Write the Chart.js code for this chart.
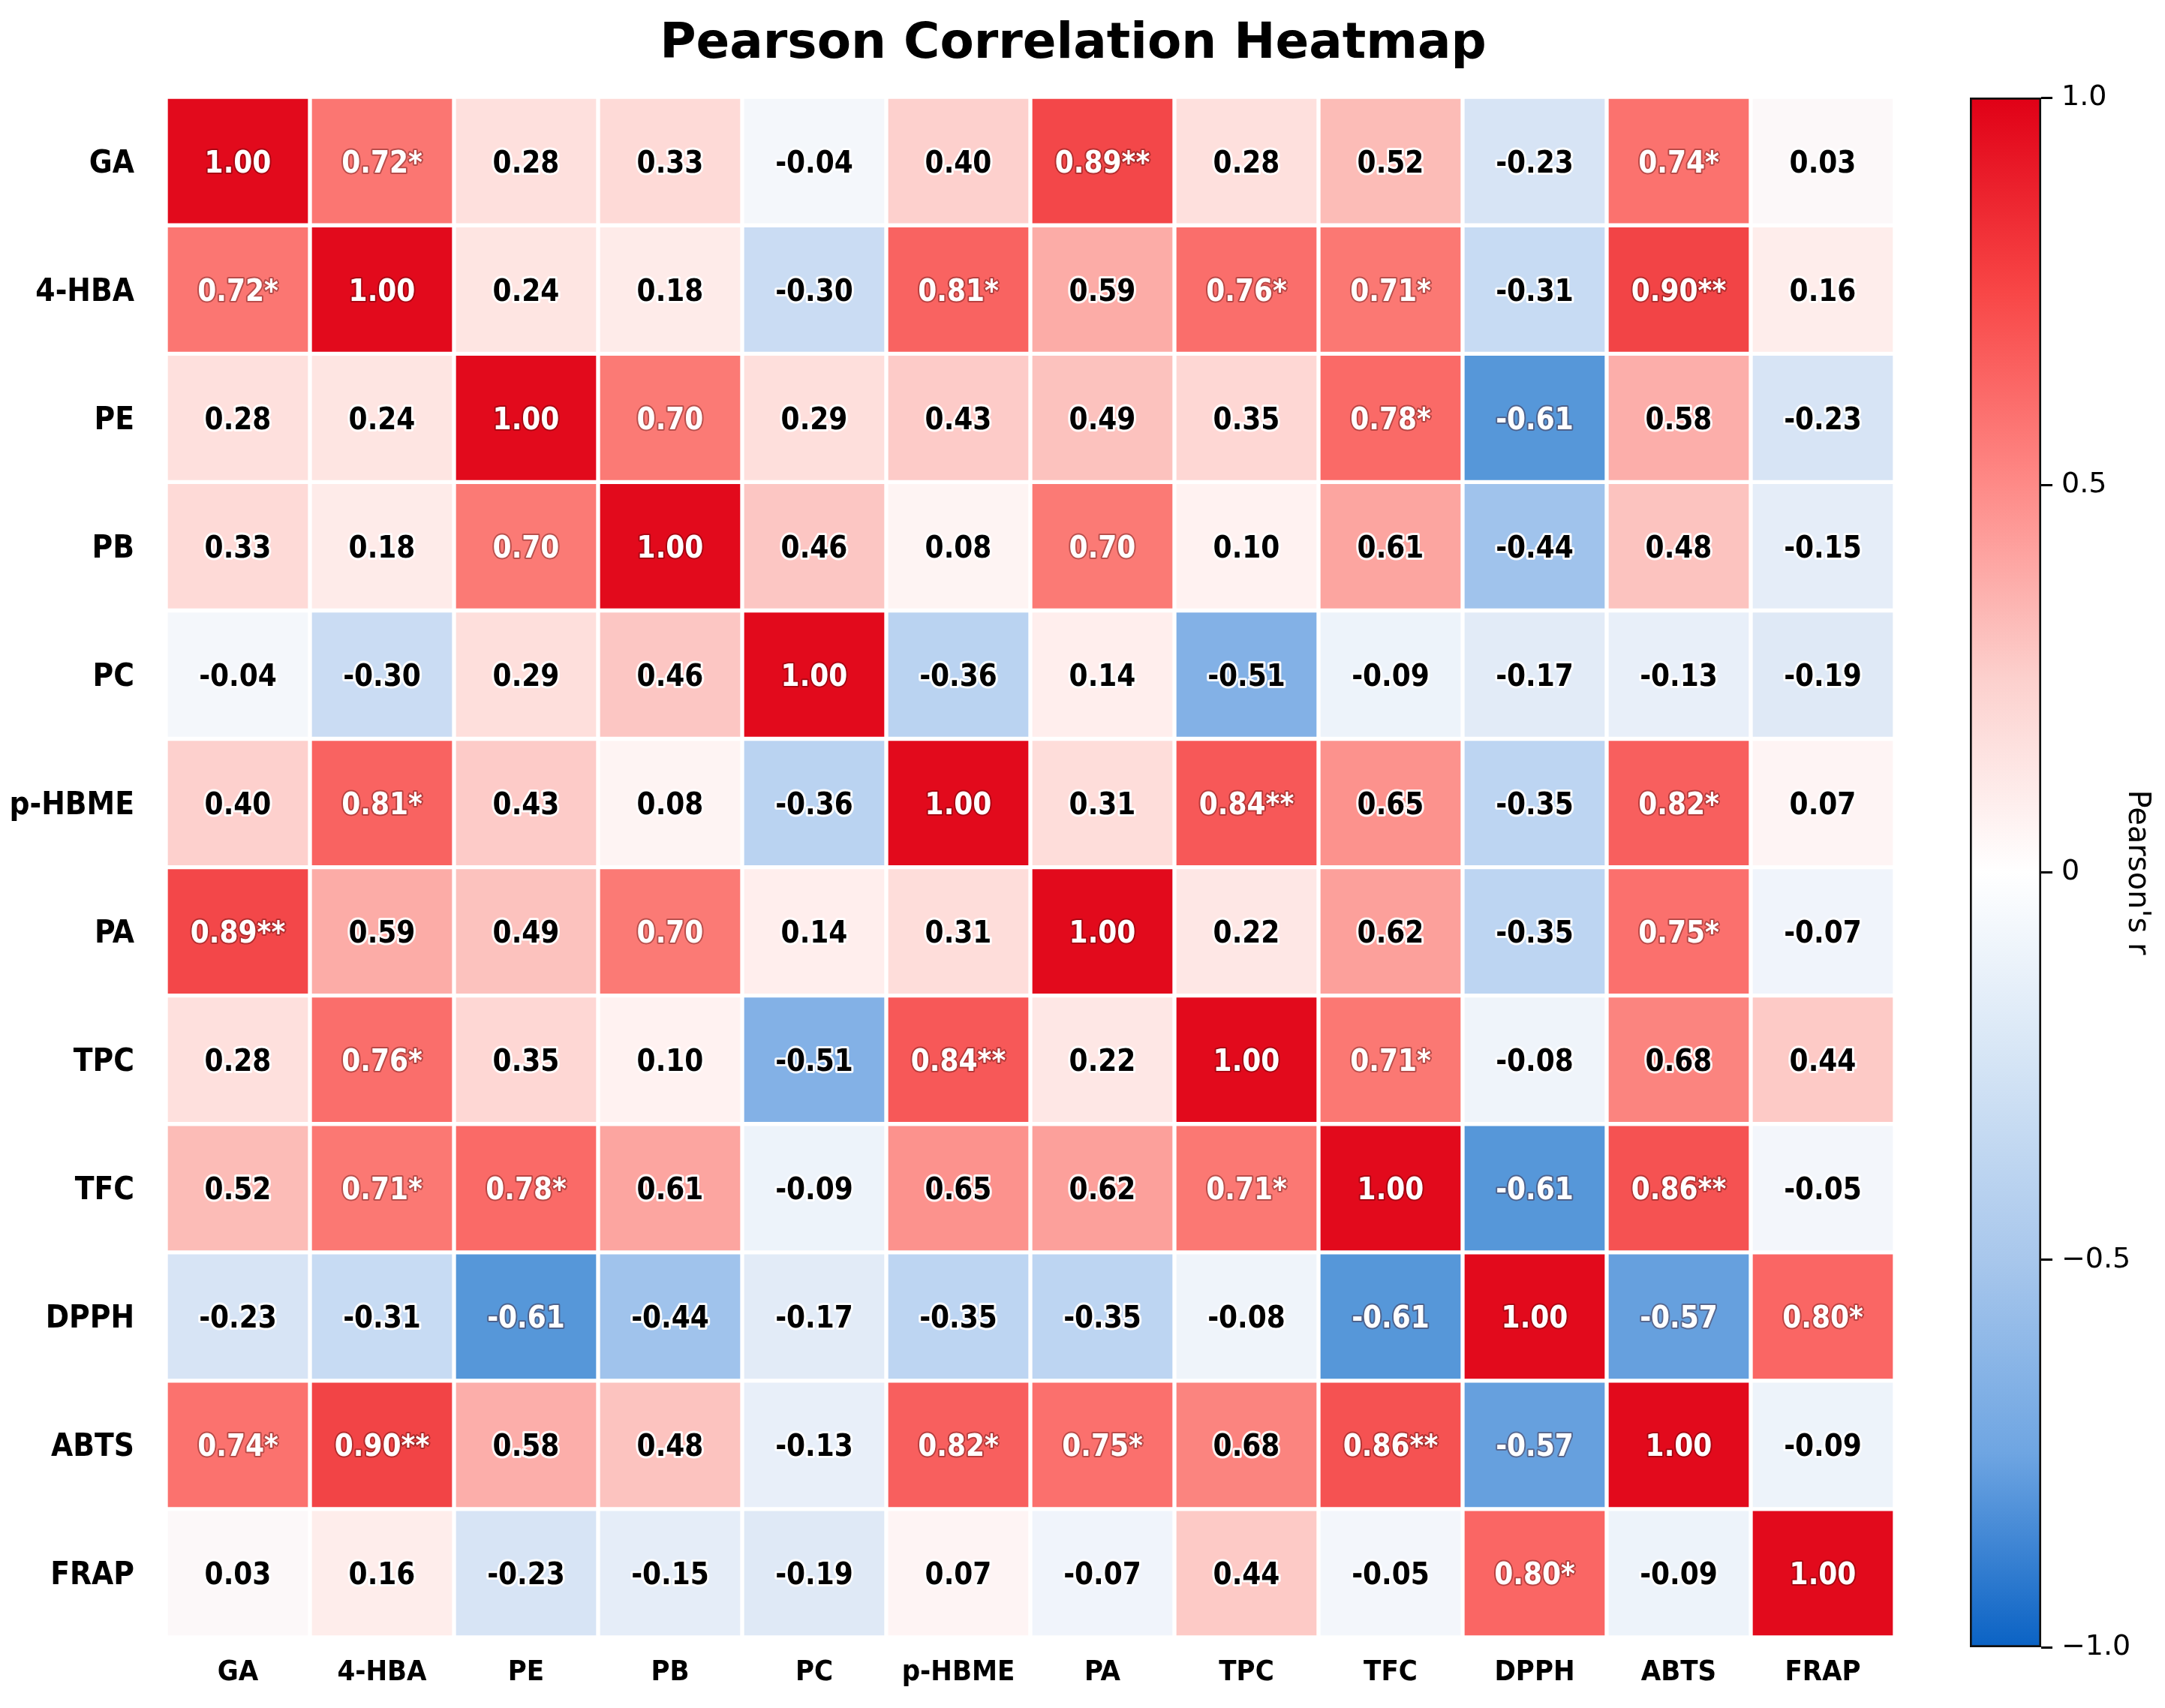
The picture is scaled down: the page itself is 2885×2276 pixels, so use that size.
<!DOCTYPE html>
<html>
<head>
<meta charset="utf-8">
<script src="https://cdn.jsdelivr.net/npm/chart.js@4.4.1/dist/chart.umd.min.js"></script>
<style>
  body { margin: 0; background: #ffffff; }
  #wrap { position: relative; width: 2885px; height: 2276px; }
  #heat { position: absolute; left: 0; top: 0; }
  #cbar { position: absolute; left: 2600px; top: 0; }
</style>
</head>
<body>
<div id="wrap">
  <canvas id="heat" width="2885" height="2276"></canvas>
  <canvas id="cbar" width="285" height="2276"></canvas>
</div>
<script>
// variables, same order on both axes
const etiquetas = ["GA", "4-HBA", "PE", "PB", "PC", "p-HBME", "PA", "TPC", "TFC", "DPPH", "ABTS", "FRAP"]

// correlation rows (Pearson r)
const filaGA    = [1.00, 0.72, 0.28, 0.33, -0.04, 0.40, 0.89, 0.28, 0.52, -0.23, 0.74, 0.03]
const filaHBA   = [0.72, 1.00, 0.24, 0.18, -0.30, 0.81, 0.59, 0.76, 0.71, -0.31, 0.90, 0.16]
const filaPE    = [0.28, 0.24, 1.00, 0.70, 0.29, 0.43, 0.49, 0.35, 0.78, -0.61, 0.58, -0.23]
const filaPB    = [0.33, 0.18, 0.70, 1.00, 0.46, 0.08, 0.70, 0.10, 0.61, -0.44, 0.48, -0.15]
const filaPC    = [-0.04, -0.30, 0.29, 0.46, 1.00, -0.36, 0.14, -0.51, -0.09, -0.17, -0.13, -0.19]
const filaHBME  = [0.40, 0.81, 0.43, 0.08, -0.36, 1.00, 0.31, 0.84, 0.65, -0.35, 0.82, 0.07]
const filaPA    = [0.89, 0.59, 0.49, 0.70, 0.14, 0.31, 1.00, 0.22, 0.62, -0.35, 0.75, -0.07]
const filaTPC   = [0.28, 0.76, 0.35, 0.10, -0.51, 0.84, 0.22, 1.00, 0.71, -0.08, 0.68, 0.44]
const filaTFC   = [0.52, 0.71, 0.78, 0.61, -0.09, 0.65, 0.62, 0.71, 1.00, -0.61, 0.86, -0.05]
const filaDPPH  = [-0.23, -0.31, -0.61, -0.44, -0.17, -0.35, -0.35, -0.08, -0.61, 1.00, -0.57, 0.80]
const filaABTS  = [0.74, 0.90, 0.58, 0.48, -0.13, 0.82, 0.75, 0.68, 0.86, -0.57, 1.00, -0.09]
const filaFRAP  = [0.03, 0.16, -0.23, -0.15, -0.19, 0.07, -0.07, 0.44, -0.05, 0.80, -0.09, 1.00]

// significance marks per row
const sigGA    = ["", "*", "", "", "", "", "**", "", "", "", "*", ""]
const sigHBA   = ["*", "", "", "", "", "*", "", "*", "*", "", "**", ""]
const sigPE    = ["", "", "", "", "", "", "", "", "*", "", "", ""]
const sigPB    = ["", "", "", "", "", "", "", "", "", "", "", ""]
const sigPC    = ["", "", "", "", "", "", "", "", "", "", "", ""]
const sigHBME  = ["", "*", "", "", "", "", "", "**", "", "", "*", ""]
const sigPA    = ["**", "", "", "", "", "", "", "", "", "", "*", ""]
const sigTPC   = ["", "*", "", "", "", "**", "", "", "*", "", "", ""]
const sigTFC   = ["", "*", "*", "", "", "", "", "*", "", "", "**", ""]
const sigDPPH  = ["", "", "", "", "", "", "", "", "", "", "", "*"]
const sigABTS  = ["*", "**", "", "", "", "*", "*", "", "**", "", "", ""]
const sigFRAP  = ["", "", "", "", "", "", "", "", "", "*", "", ""]

// colour bar ticks
const ticksBarra = [-1, -0.5, 0, 0.5, 1]

const filas = [filaGA, filaHBA, filaPE, filaPB, filaPC, filaHBME, filaPA, filaTPC, filaTFC, filaDPPH, filaABTS, filaFRAP]
const marcas = [sigGA, sigHBA, sigPE, sigPB, sigPC, sigHBME, sigPA, sigTPC, sigTFC, sigDPPH, sigABTS, sigFRAP]

// blue - white - red colour map for the cells
const paradas = [
    [-1.0, [14, 96, 196]],
    [-0.6, [88, 152, 218]],
    [-0.5, [136, 180, 231]],
    [-0.4, [176, 205, 240]],
    [-0.3, [202, 220, 243]],
    [-0.2, [221, 232, 246]],
    [-0.1, [236, 242, 250]],
    [0.0, [250, 250, 252]],
    [0.1, [255, 242, 241]],
    [0.2, [254, 233, 231]],
    [0.3, [254, 222, 219]],
    [0.4, [253, 208, 205]],
    [0.5, [252, 192, 188]],
    [0.6, [252, 170, 165]],
    [0.7, [251, 122, 117]],
    [0.8, [250, 102, 100]],
    [0.9, [242, 68, 70]],
    [1.0, [226, 10, 28]]
]

// colour bar gradient
const paradasBarra = [
    [-1.0, [10, 98, 196]],
    [-0.75, [110, 165, 226]],
    [-0.5, [168, 199, 236]],
    [-0.25, [212, 228, 245]],
    [0.0, [255, 255, 255]],
    [0.25, [252, 208, 205]],
    [0.5, [254, 138, 135]],
    [0.75, [248, 70, 70]],
    [1.0, [224, 0, 22]]
]

function colorDe(v) {
    for (let k = 1; k < paradas.length; k++) {
        if (v <= paradas[k][0]) {
            const a = paradas[k - 1], b = paradas[k]
            const t = (v - a[0]) / (b[0] - a[0])
            const c = a[1].map((x, i) => Math.round(x + (b[1][i] - x) * t))
            return `rgb(${c[0]},${c[1]},${c[2]})`
        }
    }
    return "rgb(226,10,28)"
}

const fuenteNum = "'DejaVu Sans Condensed', 'DejaVu Sans', sans-serif"

const anotaciones = {
    id: "anotaciones",
    afterDatasetsDraw(chart) {
        const ctx = chart.ctx
        ctx.save()
        ctx.font = `bold 40px ${fuenteNum}`
        ctx.textAlign = "center"
        ctx.textBaseline = "alphabetic"
        ctx.lineJoin = "round"
        chart.data.datasets.forEach((ds, i) => {
            const meta = chart.getDatasetMeta(i)
            meta.data.forEach((bar, j) => {
                const v = filas[i][j]
                const txt = v.toFixed(2) + marcas[i][j]
                const cx = bar.x
                // digits centred on the cell
                const cy = (bar.y + bar.base) / 2 + 15
                const blanco = v >= 0.70 || v <= -0.55
                ctx.lineWidth = blanco ? 4 : 6
                ctx.strokeStyle = blanco ? "rgba(60,0,0,0.35)" : "rgba(255,255,255,0.9)"
                ctx.strokeText(txt, cx, cy)
                ctx.fillStyle = blanco ? "#ffffff" : "#000000"
                ctx.fillText(txt, cx, cy)
            })
        })
        ctx.restore()
    }
}

const conjuntos = filas.map((fila, i) => ({
    label: etiquetas[i],
    data: fila.map(() => [i, i + 1]),
    backgroundColor: c => colorDe(filas[c.datasetIndex][c.dataIndex]),
    borderColor: "#ffffff",
    borderWidth: 3,
    borderSkipped: false,
    grouped: false,
    barPercentage: 1,
    categoryPercentage: 1
}))

new Chart(document.getElementById("heat"), {
    type: "bar",
    data: { labels: etiquetas, datasets: conjuntos },
    options: {
        responsive: false,
        animation: false,
        devicePixelRatio: 1,
        layout: { padding: { left: 0, right: 25, top: 0, bottom: 0 } },
        plugins: {
            legend: { display: false },
            tooltip: { enabled: false },
            title: {
                display: true,
                text: "Pearson Correlation Heatmap",
                color: "#000000",
                font: { family: "'DejaVu Sans', sans-serif", size: 66, weight: "bold" },
                padding: { top: 20, bottom: 30 }
            }
        },
        scales: {
            x: {
                grid: { display: false, drawTicks: false },
                border: { display: false },
                ticks: {
                    color: "#000000",
                    padding: 24,
                    font: { family: fuenteNum, size: 38, weight: "bold" }
                },
                afterFit: ax => { ax.height = 94 }
            },
            y: {
                type: "linear",
                min: 0,
                max: 12,
                reverse: true,
                grid: { display: false, drawTicks: false },
                border: { display: false },
                afterBuildTicks: ax => { ax.ticks = etiquetas.map((_, i) => ({ value: i + 0.5 })) },
                ticks: {
                    color: "#000000",
                    padding: 42,
                    labelOffset: 4,
                    font: { family: fuenteNum, size: 42, weight: "bold" },
                    callback: (v, idx) => etiquetas[idx]
                },
                afterFit: ax => { ax.width = 221 }
            },
            // empty axis that keeps room for the colour bar
            y2: {
                type: "linear",
                position: "right",
                min: 0,
                max: 12,
                grid: { display: false, drawTicks: false },
                border: { display: false },
                ticks: { display: false },
                afterFit: ax => { ax.width = 335 }
            }
        }
    },
    plugins: [anotaciones]
})

// colour bar
new Chart(document.getElementById("cbar"), {
    type: "bar",
    data: {
        labels: ["r"],
        datasets: [{
            data: [[-1, 1]],
            backgroundColor: c => {
                const area = c.chart.chartArea
                if (!area) return "#ffffff"
                const g = c.chart.ctx.createLinearGradient(0, area.bottom, 0, area.top)
                paradasBarra.forEach(p => {
                    g.addColorStop((p[0] + 1) / 2, `rgb(${p[1][0]},${p[1][1]},${p[1][2]})`)
                })
                return g
            },
            borderColor: "#111111",
            borderWidth: 3,
            borderSkipped: false,
            barPercentage: 1,
            categoryPercentage: 1
        }]
    },
    options: {
        responsive: false,
        animation: false,
        devicePixelRatio: 1,
        layout: { padding: { left: 25, right: 0, top: 130, bottom: 81 } },
        plugins: { legend: { display: false }, tooltip: { enabled: false } },
        scales: {
            x: { display: false },
            y: {
                position: "right",
                min: -1,
                max: 1,
                afterBuildTicks: ax => { ax.ticks = ticksBarra.map(v => ({ value: v })) },
                grid: { drawOnChartArea: false, color: "#000000", lineWidth: 3, tickLength: 15 },
                border: { display: false },
                ticks: {
                    color: "#000000",
                    padding: 12,
                    font: { family: "'DejaVu Sans', sans-serif", size: 38 },
                    callback: v => v === 0 ? "0" : v.toFixed(1).replace("-", "\u2212")
                },
                title: {
                    display: true,
                    text: "Pearson's r",
                    color: "#000000",
                    font: { family: "'DejaVu Sans', sans-serif", size: 40 },
                    padding: { top: 14, bottom: 0 }
                },
                afterFit: ax => { ax.width = 165 }
            }
        }
    }
})
</script>
</body>
</html>
